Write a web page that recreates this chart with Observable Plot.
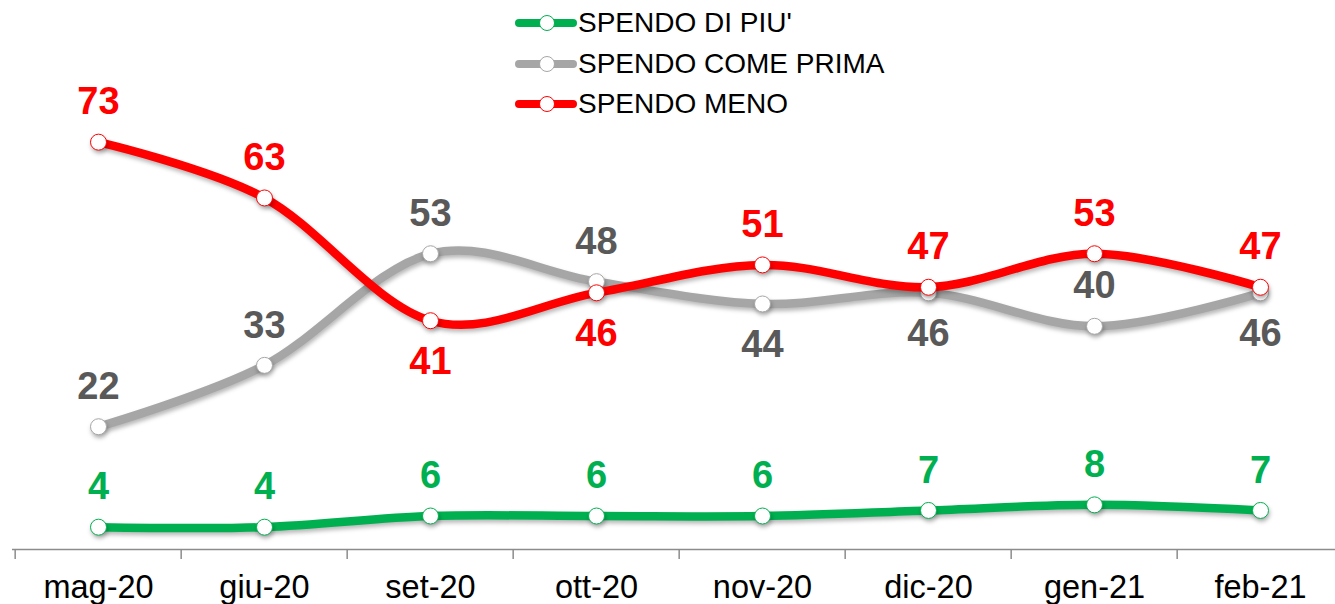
<!DOCTYPE html>
<html>
<head>
<meta charset="utf-8">
<script src="https://cdn.jsdelivr.net/npm/d3@7"></script>
<script src="https://cdn.jsdelivr.net/npm/@observablehq/plot@0.6"></script>
<style>
  html, body { margin: 0; padding: 0; background: #fff; }
  #wrap { position: relative; width: 1335px; height: 604px; font-family: "Liberation Sans", Arial, sans-serif; }
  #legend { position: absolute; left: 514px; top: 3px; }
  .row { display: flex; align-items: center; height: 40.5px; font-size: 28px; color: #000; }
  .shadow { filter: drop-shadow(1px 3px 2px rgba(0,0,0,0.28)); }
</style>
</head>
<body>
<div id="wrap">
  <div id="chart"></div>
  <div id="legend"></div>
</div>
<script>
const months = ["mag-20","giu-20","set-20","ott-20","nov-20","dic-20","gen-21","feb-21"];
const piu   = [4, 4, 6, 6, 6, 7, 8, 7];
const come  = [22, 33, 53, 48, 44, 46, 40, 46];
const meno  = [73, 63, 41, 46, 51, 47, 53, 47];
const piuPos  = ["above","above","above","above","above","above","above","above"];
const comePos = ["above","above","above","above","below","below","above","below"];
const menoPos = ["above","above","below","below","above","above","above","above"];
const seriesNames = ["SPENDO DI PIU'", "SPENDO COME PRIMA", "SPENDO MENO"];
const lineColors  = ["#00B050", "#A6A6A6", "#FF0000"];
const labelColors = ["#00B050", "#595959", "#FF0000"];

const seriesVals = [piu, come, meno];
const seriesPos = [piuPos, comePos, menoPos];
const data = [];
seriesNames.forEach((s, si) => months.forEach((m, i) => data.push({
  series: s, si, month: m, value: seriesVals[si][i], pos: seriesPos[si][i]
})));

const xRange = [12.7, 1346];
const step = (xRange[1] - xRange[0]) / months.length;
const curve = d3.curveCatmullRom.alpha(0);

const marks = [
  Plot.ruleY([0], {stroke: "#8c8c8c", strokeWidth: 1.5}),
  Plot.axisX({tickSize: 10, tickFormat: () => "", dx: -step / 2, stroke: "#8c8c8c", strokeWidth: 1.5, strokeOpacity: 1}),
  Plot.axisX({tickSize: 0, tickPadding: 25, fontSize: 32.5, fill: "#000"}),
];
seriesNames.forEach((s, si) => {
  const d = data.filter(r => r.si === si);
  marks.push(Plot.line(d, {x: "month", y: "value", stroke: lineColors[si], strokeWidth: 8.5, curve, strokeLinecap: "round", className: "shadow"}));
  marks.push(Plot.dot(d, {x: "month", y: "value", r: 8, fill: "#fff", stroke: lineColors[si], strokeWidth: 1, className: "shadow"}));
});
seriesNames.forEach((s, si) => {
  const d = data.filter(r => r.si === si);
  marks.push(Plot.text(d.filter(r => r.pos === "above"), {x: "month", y: "value", text: "value", dy: -40, fill: labelColors[si], fontSize: 38, fontWeight: "bold"}));
  marks.push(Plot.text(d.filter(r => r.pos === "below"), {x: "month", y: "value", text: "value", dy: 41, fill: labelColors[si], fontSize: 38, fontWeight: "bold"}));
});

const chart = Plot.plot({
  width: 1335,
  height: 604,
  marginLeft: 12,
  marginRight: 0,
  marginTop: 0,
  marginBottom: 55,
  style: {fontFamily: "'Liberation Sans', Arial, sans-serif", background: "#fff", overflow: "visible"},
  x: {type: "point", domain: months, range: xRange, padding: 0.5, label: null},
  y: {domain: [0, 100], range: [549, -9], axis: null},
  marks
});
document.getElementById("chart").appendChild(chart);

const legend = document.getElementById("legend");
seriesNames.forEach((s, si) => {
  const row = document.createElement("div");
  row.className = "row";
  row.innerHTML = `<svg width="64" height="20"><line x1="5" y1="10" x2="59" y2="10" stroke="${lineColors[si]}" stroke-width="8" stroke-linecap="round"/><circle cx="33" cy="10" r="7.5" fill="#fff" stroke="${lineColors[si]}" stroke-width="1"/></svg><span>${s}</span>`;
  legend.appendChild(row);
});
</script>
</body>
</html>
